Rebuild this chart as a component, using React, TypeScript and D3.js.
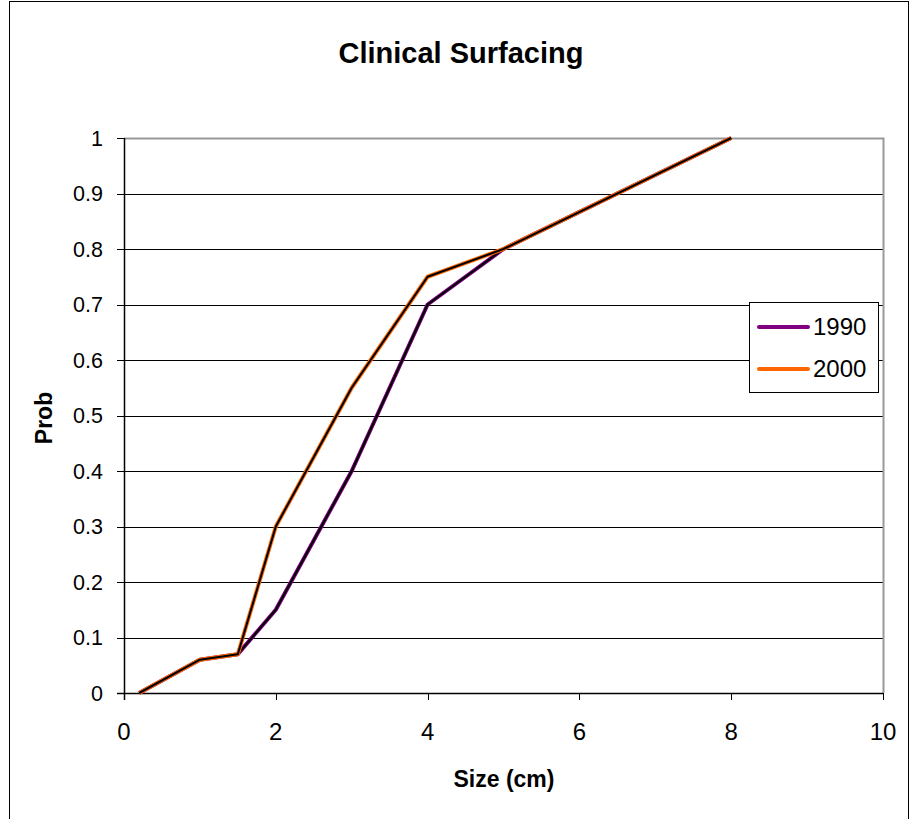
import React from "react";
import * as d3 from "d3";

const sizes1990 = [0.2, 1, 1.5, 2, 3, 4, 5, 8];
const prob1990 = [0, 0.06, 0.07, 0.15, 0.4, 0.7, 0.8, 1.0];
const sizes2000 = [0.2, 1, 1.5, 2, 3, 4, 5, 8];
const prob2000 = [0, 0.06, 0.07, 0.3, 0.55, 0.75, 0.8, 1.0];
const xTicks = [0, 2, 4, 6, 8, 10];
const yTicks = [0, 0.1, 0.2, 0.3, 0.4, 0.5, 0.6, 0.7, 0.8, 0.9, 1];
const seriesNames = ["1990", "2000"];
const seriesColors = ["#800080", "#ff6600"];

const W = 916;
const H = 819;
const FONT = "'Liberation Sans', Arial, sans-serif";

export default function App() {
  const x = d3.scaleLinear().domain([0, 10]).range([124, 883]);
  const y = d3.scaleLinear().domain([0, 1]).range([693, 138]);
  const line = d3
    .line<[number, number]>()
    .x((d) => x(d[0]))
    .y((d) => y(d[1]));

  const series = [
    d3.zip(sizes1990, prob1990) as [number, number][],
    d3.zip(sizes2000, prob2000) as [number, number][],
  ];

  return (
    <svg
      width={W}
      height={H}
      style={{ position: "absolute", left: 0, top: 0, fontFamily: FONT }}
    >
      <rect x={0} y={0} width={W} height={H} fill="#fff" />
      {/* chart frame */}
      <rect x={9.5} y={1.5} width={899} height={H + 10} fill="none" stroke="#000" strokeWidth={1} />

      <text x={461} y={63} textAnchor="middle" fontSize={29} fontWeight="bold">
        Clinical Surfacing
      </text>

      {/* horizontal gridlines */}
      {yTicks.slice(1, -1).map((t) => (
        <line key={t} x1={124} x2={883} y1={Math.round(y(t)) + 0.5} y2={Math.round(y(t)) + 0.5} stroke="#000" strokeWidth={1} />
      ))}
      {/* plot area border */}
      <path d={`M124,${138.5}H${883.5}V${693}`} fill="none" stroke="#999" strokeWidth={2} />

      {/* axes */}
      <line x1={124.5} x2={124.5} y1={138} y2={700} stroke="#000" strokeWidth={1.5} />
      <line x1={117} x2={883} y1={693.5} y2={693.5} stroke="#000" strokeWidth={1.5} />
      {yTicks.map((t) => (
        <g key={t}>
          <line x1={117} x2={124} y1={Math.round(y(t)) + 0.5} y2={Math.round(y(t)) + 0.5} stroke="#000" />
          <text x={103} y={y(t) + 7.5} textAnchor="end" fontSize={21.5}>
            {t}
          </text>
        </g>
      ))}
      {xTicks.map((t) => (
        <g key={t}>
          <line x1={Math.round(x(t)) + 0.5} x2={Math.round(x(t)) + 0.5} y1={693} y2={700} stroke="#000" />
          <text x={x(t)} y={740} textAnchor="middle" fontSize={24}>
            {t}
          </text>
        </g>
      ))}

      <text x={504} y={787} textAnchor="middle" fontSize={23} fontWeight="bold">
        Size (cm)
      </text>
      <text
        transform={`translate(52,${418}) rotate(-90)`}
        textAnchor="middle"
        fontSize={23}
        fontWeight="bold"
      >
        Prob
      </text>

      {/* series lines: coloured edge with a dark core */}
      {series.map((s, i) => (
        <g key={seriesNames[i]}>
          <path d={line(s) ?? ""} fill="none" stroke={seriesColors[i]} strokeWidth={4} strokeLinejoin="round" />
          <path d={line(s) ?? ""} fill="none" stroke="#000" strokeWidth={2} strokeLinejoin="round" />
        </g>
      ))}

      {/* legend */}
      <rect x={749.5} y={302.5} width={129} height={90} fill="#fff" stroke="#000" strokeWidth={1} />
      {seriesNames.map((n, i) => (
        <g key={n}>
          <line x1={759} x2={808} y1={327 + i * 42} y2={327 + i * 42} stroke={seriesColors[i]} strokeWidth={4} strokeLinecap="round" />
          <text x={813} y={335 + i * 42} fontSize={24}>
            {n}
          </text>
        </g>
      ))}
    </svg>
  );
}
